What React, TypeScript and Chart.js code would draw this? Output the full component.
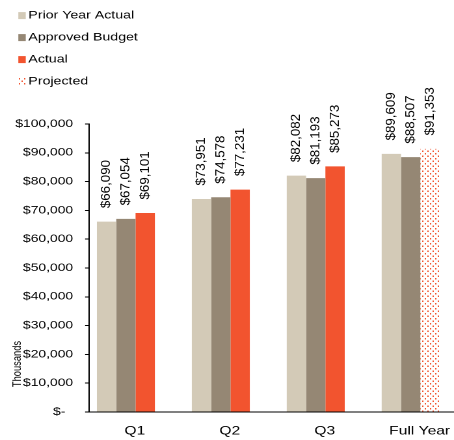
import React, { useEffect, useRef } from 'react';
import { Chart, registerables } from 'chart.js';

Chart.register(...registerables);

// ---- data ----
const categories = ['Q1', 'Q2', 'Q3', 'Full Year'];
const priorYearActual = [66090, 73951, 82082, 89609];
const approvedBudget = [67054, 74578, 81193, 88507];
const actual = [69101, 77231, 85273, 91353]; // last value is the projection
const projectedIndex = 3;
const legendLabels = ['Prior Year Actual', 'Approved Budget', 'Actual', 'Projected'];
const yMin = 0;
const yMax = 100000;
const yStep = 10000;
const yAxisNote = 'Thousands';

// ---- style ----
const COLOR_PRIOR = '#D3CAB7';
const COLOR_BUDGET = '#958774';
const COLOR_ACTUAL = '#F2542F';
const FONT = '"Liberation Sans", Arial, sans-serif';
const SCREEN_W = 454;
const SCREEN_H = 440;
const CHART_W = 349;
const S = SCREEN_W / CHART_W; // horizontal stretch of the rendered picture

const fmt = (v: number) => '$' + v.toLocaleString('en-US');

function makeDotPattern(ctx: CanvasRenderingContext2D): CanvasPattern | string {
  const c = document.createElement('canvas');
  c.width = 8;
  c.height = 10;
  const p = c.getContext('2d');
  if (!p) return COLOR_ACTUAL;
  p.fillStyle = '#ffffff';
  p.fillRect(0, 0, 8, 10);
  p.fillStyle = COLOR_ACTUAL;
  p.fillRect(1, 1, 2, 3);
  p.fillRect(5, 6, 2, 3);
  const pat = ctx.createPattern(c, 'repeat');
  if (!pat) return COLOR_ACTUAL;
  try {
    pat.setTransform(new DOMMatrix([0.5, 0, 0, 0.5, 0, 0]));
  } catch (e) {
    /* ignore */
  }
  return pat;
}

export default function App() {
  const ref = useRef<HTMLCanvasElement>(null);

  useEffect(() => {
    document.body.style.margin = '0';
    const canvas = ref.current;
    if (!canvas) return;
    const ctx0 = canvas.getContext('2d') as CanvasRenderingContext2D;
    const pattern = makeDotPattern(ctx0);

    const actualColors = actual.map((_, i) => (i === projectedIndex ? pattern : COLOR_ACTUAL));
    const legendColors: any[] = [COLOR_PRIOR, COLOR_BUDGET, COLOR_ACTUAL, pattern];

    const dataLabelPlugin = {
      id: 'dataLabels',
      afterDatasetsDraw(chart: any) {
        const ctx = chart.ctx as CanvasRenderingContext2D;
        chart.data.datasets.forEach((ds: any, di: number) => {
          const meta = chart.getDatasetMeta(di);
          meta.data.forEach((el: any, j: number) => {
            const v = ds.data[j].y;
            ctx.save();
            ctx.translate(el.x, el.y - 13.5);
            ctx.scale(1 / S, 1);
            ctx.rotate(-Math.PI / 2);
            ctx.font = `13.33px ${FONT}`;
            ctx.fillStyle = '#000';
            ctx.textAlign = 'left';
            ctx.textBaseline = 'middle';
            ctx.fillText(fmt(v), 0, 0);
            ctx.restore();
          });
        });
      },
    };

    const legendPlugin = {
      id: 'customLegend',
      afterDraw(chart: any) {
        const ctx = chart.ctx as CanvasRenderingContext2D;
        const ys = [15.6, 37.6, 59.6, 81.4];
        legendLabels.forEach((label, i) => {
          const yc = ys[i];
          ctx.save();
          ctx.fillStyle = legendColors[i];
          ctx.fillRect(14.1, yc - 3.5, 5.7, 7);
          ctx.fillStyle = '#000';
          ctx.font = `10.9px ${FONT}`;
          ctx.textAlign = 'left';
          ctx.textBaseline = 'middle';
          ctx.fillText(label, 21.8, yc);
          ctx.restore();
        });
      },
    };

    const axisNotePlugin = {
      id: 'axisNote',
      afterDraw(chart: any) {
        const ctx = chart.ctx as CanvasRenderingContext2D;
        ctx.save();
        ctx.translate(17.5 / S, 364);
        ctx.rotate(-Math.PI / 2);
        ctx.font = `9.33px ${FONT}`;
        ctx.fillStyle = '#000';
        ctx.textAlign = 'center';
        ctx.textBaseline = 'middle';
        ctx.fillText(yAxisNote, 0, 0);
        ctx.restore();
      },
    };

    const toPoints = (arr: number[]) => arr.map((v, i) => ({ x: i, y: v }));

    const chart = new Chart(canvas, {
      type: 'bar',
      data: {
        datasets: [
          { label: legendLabels[0], data: toPoints(priorYearActual), backgroundColor: COLOR_PRIOR, borderWidth: 0 },
          { label: legendLabels[1], data: toPoints(approvedBudget), backgroundColor: COLOR_BUDGET, borderWidth: 0 },
          { label: legendLabels[2], data: toPoints(actual), backgroundColor: actualColors as any, borderWidth: 0 },
        ],
      },
      options: {
        responsive: false,
        animation: false,
        devicePixelRatio: 2,
        events: [],
        barPercentage: 1,
        categoryPercentage: 0.611,
        layout: { padding: { top: 124, left: 0, right: 0, bottom: 0 } },
        plugins: {
          legend: { display: false },
          tooltip: { enabled: false },
          title: { display: false },
        },
        scales: {
          x: {
            type: 'linear',
            min: -0.3888,
            max: 3.4566,
            offset: false,
            grid: { display: false },
            border: { display: true, color: '#000', width: 1 },
            afterBuildTicks: (s: any) => {
              s.ticks = categories.map((_, i) => ({ value: i }));
            },
            afterFit: (s: any) => {
              s.height = 28;
            },
            ticks: {
              callback: (v: any) => categories[v] ?? '',
              labelOffset: 6.9,
              padding: 4,
              maxRotation: 0,
              autoSkip: false,
              color: '#000',
              font: { family: FONT, size: 12 },
            },
          },
          y: {
            min: yMin,
            max: yMax,
            afterFit: (s: any) => {
              s.width = 68.4;
            },
            grid: { drawOnChartArea: false, drawTicks: true, tickLength: 3, color: '#000', lineWidth: 1 },
            border: { display: true, color: '#000', width: 1 },
            ticks: {
              stepSize: yStep,
              padding: 9.2,
              color: '#000',
              font: { family: FONT, size: 10.67 },
              callback: (v: any) => (v === 0 ? '$-  ' : fmt(v)),
            },
          },
        },
      } as any,
      plugins: [dataLabelPlugin, legendPlugin, axisNotePlugin],
    });

    return () => chart.destroy();
  }, []);

  return (
    <canvas
      ref={ref}
      width={CHART_W}
      height={SCREEN_H}
      style={{ width: SCREEN_W + 'px', height: SCREEN_H + 'px', display: 'block' }}
    />
  );
}
